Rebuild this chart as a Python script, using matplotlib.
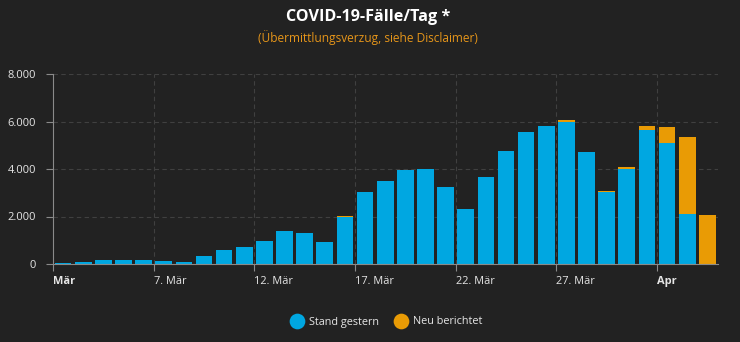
import matplotlib
matplotlib.use("Agg")
import matplotlib.pyplot as plt
import matplotlib.dates as mdates
from matplotlib.lines import Line2D
import numpy as np
import pandas as pd

# Daily case counts, 2 March to 3 April
dates = pd.date_range("2020-03-02", "2020-04-03", freq="D")
total = [55, 100, 180, 170, 180, 130, 100, 340, 600, 715, 970, 1390, 1310, 930,
         2015, 3035, 3500, 3970, 4010, 3250, 2320, 3670, 4770, 5570, 5820, 6075,
         4730, 3080, 4090, 5820, 5780, 5360, 2070]
neu_berichtet = [5, 30, 5, 20, 5, 5, 35, 20, 5, 15, 15, 20, 20, 20,
                 20, 20, 20, 20, 15, 25, 0, 20, 25, 25, 20, 80,
                 25, 40, 100, 170, 680, 3250, 2070]
stand_gestern = [t - n for t, n in zip(total, neu_berichtet)]

series_names = ["Stand gestern", "Neu berichtet"]
tick_dates = ["2020-03-02", "2020-03-07", "2020-03-12", "2020-03-17",
              "2020-03-22", "2020-03-27", "2020-04-01"]
tick_labels = ["Mär", "7. Mär", "12. Mär", "17. Mär", "22. Mär", "27. Mär", "Apr"]
y_ticks = [0, 2000, 4000, 6000, 8000]
y_labels = ["0", "2.000", "4.000", "6.000", "8.000"]

title = "COVID-19-Fälle/Tag *"
subtitle = "(Übermittlungsverzug, siehe Disclaimer)"

BG = "#222222"
BLUE = "#00A7E1"
ORANGE = "#E99B05"
GRID = "#404040"
AXIS = "#8a8a8a"
TEXT = "#e6e6e6"

plt.rcParams["font.family"] = ["Open Sans", "DejaVu Sans"]

W, H = 740, 342
fig = plt.figure(figsize=(W / 100, H / 100), dpi=100, facecolor=BG)
ax = fig.add_axes([53 / W, (H - 264) / H, (718 - 53) / W, (264 - 74) / H], facecolor=BG)

x = mdates.date2num(dates) + 0.5
ax.bar(x, stand_gestern, width=0.83, color=BLUE, linewidth=0, zorder=3)
ax.bar(x, neu_berichtet, bottom=stand_gestern, width=0.83, color=ORANGE,
       linewidth=0, zorder=3)

start = mdates.date2num(pd.Timestamp("2020-03-02"))
ax.set_xlim(start, start + 33.03)
ax.set_ylim(0, 8000)

tpos = mdates.date2num(pd.to_datetime(tick_dates))
ax.set_xticks(tpos)
ax.set_xticklabels(tick_labels)
for lbl, txt in zip(ax.get_xticklabels(), tick_labels):
    lbl.set_horizontalalignment("left")
    lbl.set_color(TEXT)
    lbl.set_fontsize(7.9)
    if txt in ("Mär", "Apr"):
        lbl.set_fontweight("bold")
ax.tick_params(axis="x", length=5, width=0.8, color=AXIS, pad=3.5)

ax.set_yticks(y_ticks)
ax.set_yticklabels(y_labels, color=TEXT, fontsize=8)
ax.tick_params(axis="y", length=5, width=0.8, color=AXIS, pad=7)

for v in y_ticks[1:]:
    ax.axhline(v, color=GRID, lw=0.8, ls=(0, (4, 3)), zorder=1)
for t in tpos[1:]:
    ax.axvline(t, color=GRID, lw=0.8, ls=(0, (4, 3)), zorder=1)

for side in ("top", "right"):
    ax.spines[side].set_visible(False)
for side in ("left", "bottom"):
    ax.spines[side].set_color(AXIS)
    ax.spines[side].set_linewidth(0.8)
ax.spines["bottom"].set_zorder(4)

fig.text(368 / W, 1 - 17 / H, title, ha="center", va="center", color="white",
         fontsize=11.6, fontweight="bold")
fig.text(368 / W, 1 - 38 / H, subtitle, ha="center", va="center", color="#E5951A",
         fontsize=8.6)

# Legend with round markers
for cx, col, name in [(297, BLUE, series_names[0]), (401, ORANGE, series_names[1])]:
    fig.add_artist(Line2D([cx / W], [1 - 321 / H], marker="o", markersize=11.3,
                          color=col, markeredgewidth=0, transform=fig.transFigure))
    fig.text((cx + 12) / W, 1 - 322 / H, name, ha="left", va="center",
             color=TEXT, fontsize=7.8)

fig.savefig("out.png", dpi=100, facecolor=BG)
